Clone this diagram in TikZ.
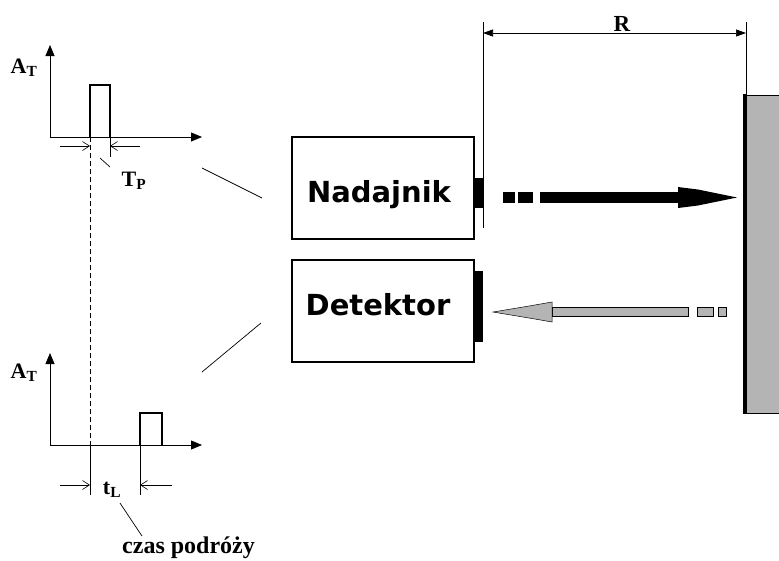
\documentclass[tikz,border=0pt]{standalone}
\usepackage{fontspec}
\newfontfamily\tnr{Liberation Serif}
\newfontfamily\vrd{DejaVu Sans}
\usetikzlibrary{arrows.meta}
\definecolor{wallgray}{HTML}{B4B4B4}
\begin{document}
\begin{tikzpicture}[x=1pt,y=-1pt,
  axis/.style={line width=0.8pt,-{Triangle[width=9pt,length=11pt]}},
  pulse/.style={line width=2.5pt},
  meas/.style={line width=0.6pt,-{Straight Barb[length=7pt,width=9pt]}},
  thinline/.style={line width=0.7pt},
  lbl/.style={font=\tnr\bfseries\fontsize{22}{22}\selectfont, inner sep=0pt},
  box/.style={draw, line width=2.2pt, minimum width=182pt, minimum height=102pt, inner sep=0pt},
  boxtext/.style={font=\vrd\bfseries\fontsize{29}{29}\selectfont, inner sep=0pt, anchor=base},
  dimarrow/.style={line width=0.7pt,{Triangle[width=7pt,length=10pt]}-{Triangle[width=7pt,length=10pt]}},
  beam/.style={fill=black},
  graybeam/.style={fill=wallgray, draw=black, line width=0.5pt},
]
\useasboundingbox (0,0) rectangle (779,560);

% ---------- coordinates ----------
\coordinate (o1) at (50,137);
\coordinate (y1) at (50,45);
\coordinate (x1) at (202,137);
\coordinate (o2) at (50,445);
\coordinate (y2) at (50,353);
\coordinate (x2) at (202,445);

% ---------- top chart ----------
\draw[axis] (o1) -- (y1);
\draw[axis] (o1) -- (x1);
\draw[pulse] (90,137) -- (90,85) -- (110,85) -- (110,137);
\draw[thinline] (110,137) -- (110,157);
\draw[meas] (60,146) -- (90,146);
\draw[meas] (140,146) -- (110,146);
\draw[thinline] (100,158) -- (110,167);
\node[lbl] (at1) at (24,68) {A\textsubscript{T}};
\node[lbl] (tp) at (134,181) {T\textsubscript{P}};

% ---------- dashed time line ----------
\draw[thinline, dash pattern=on 5pt off 3pt] (90,137) -- (90,445);
\draw[thinline] (90,445) -- (90,495);

% ---------- bottom chart ----------
\draw[axis] (o2) -- (y2);
\draw[axis] (o2) -- (x2);
\draw[pulse] (140,445) -- (140,413) -- (162,413) -- (162,445);
\draw[thinline] (140,445) -- (140,495);
\draw[meas] (60,485) -- (90,485);
\draw[meas] (172,485) -- (140,485);
\node[lbl] (at2) at (24,373) {A\textsubscript{T}};
\node[lbl] (tl) at (112,490) {t\textsubscript{L}};
\node[lbl, font=\tnr\bfseries\fontsize{24}{24}\selectfont, anchor=base west] (czas) at (122,553) {czas podróży};
\draw[thinline] (120,503) -- (142,536);

% ---------- leader lines ----------
\draw[thinline] (202,168) -- (262,198);
\draw[thinline] (202,372) -- (261,323);

% ---------- boxes ----------
\node[box] (nad) at (383,188) {};
\node[boxtext] (nadt) at (379,202) {Nadajnik};
\fill (474,178) rectangle (483,208);
\node[box] (det) at (383,311) {};
\node[boxtext] (dett) at (378,315) {Detektor};
\fill (474,271) rectangle (483,342);

% ---------- wall ----------
\fill[wallgray] (745,95) rectangle (781,413);
\draw[line width=0.8pt] (745,95) rectangle (781,413);
\draw[line width=4pt] (745,94) -- (745,414);

% ---------- R dimension ----------
\draw[thinline] (483,22) -- (483,228);
\draw[thinline] (746,22) -- (746,95);
\draw[dimarrow] (483,33) -- (746,33);
\node[lbl, font=\tnr\bfseries\fontsize{23}{23}\selectfont] (R) at (622,24) {R};

% ---------- black outgoing beam ----------
\fill[beam] (503,192) rectangle (515,203);
\fill[beam] (518,192) rectangle (533,203);
\fill[beam] (540,192) rectangle (679,203);
\fill[beam] (678,187) -- (698,189.5) -- (737,197.5) -- (698,205.5) -- (678,208) -- cycle;

% ---------- gray returning beam ----------
\draw[graybeam] (552,307.5) rectangle (688,316.5);
\draw[graybeam] (552,302) -- (532,305.5) -- (493,312) -- (532,318.5) -- (552,322) -- cycle;
\draw[graybeam] (697,307.5) rectangle (713,316.5);
\draw[graybeam] (718,307.5) rectangle (726,316.5);
\end{tikzpicture}
\end{document}
